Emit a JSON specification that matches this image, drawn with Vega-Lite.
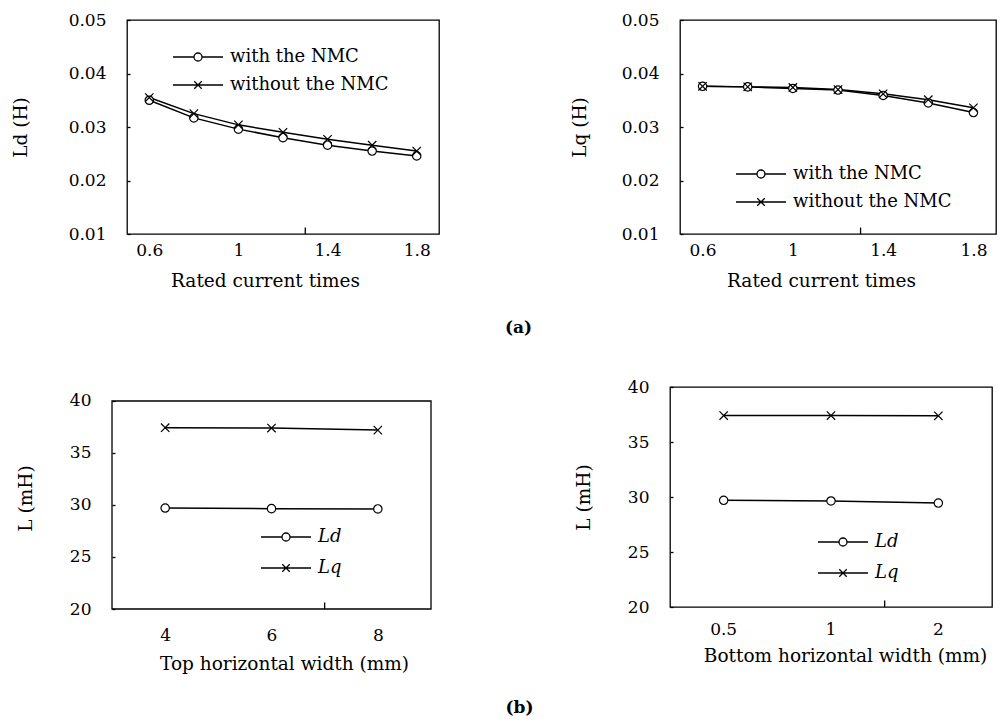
{
  "$schema": "https://vega.github.io/schema/vega-lite/v6.json",
  "padding": {"left": 10, "top": 10, "right": 0, "bottom": 0},
  "background": "white",
  "datasets": {
    "ld": [
      {"times": 0.6, "series": "with the NMC", "L": 0.0350},
      {"times": 0.8, "series": "with the NMC", "L": 0.0317},
      {"times": 1.0, "series": "with the NMC", "L": 0.0296},
      {"times": 1.2, "series": "with the NMC", "L": 0.0280},
      {"times": 1.4, "series": "with the NMC", "L": 0.0266},
      {"times": 1.6, "series": "with the NMC", "L": 0.0255},
      {"times": 1.8, "series": "with the NMC", "L": 0.0246},
      {"times": 0.6, "series": "without the NMC", "L": 0.0355},
      {"times": 0.8, "series": "without the NMC", "L": 0.0325},
      {"times": 1.0, "series": "without the NMC", "L": 0.0304},
      {"times": 1.2, "series": "without the NMC", "L": 0.0290},
      {"times": 1.4, "series": "without the NMC", "L": 0.0277},
      {"times": 1.6, "series": "without the NMC", "L": 0.0266},
      {"times": 1.8, "series": "without the NMC", "L": 0.0255}
    ],
    "lq": [
      {"times": 0.6, "series": "with the NMC", "L": 0.0376},
      {"times": 0.8, "series": "with the NMC", "L": 0.0375},
      {"times": 1.0, "series": "with the NMC", "L": 0.0372},
      {"times": 1.2, "series": "with the NMC", "L": 0.0369},
      {"times": 1.4, "series": "with the NMC", "L": 0.0359},
      {"times": 1.6, "series": "with the NMC", "L": 0.0345},
      {"times": 1.8, "series": "with the NMC", "L": 0.0327},
      {"times": 0.6, "series": "without the NMC", "L": 0.0376},
      {"times": 0.8, "series": "without the NMC", "L": 0.0375},
      {"times": 1.0, "series": "without the NMC", "L": 0.0374},
      {"times": 1.2, "series": "without the NMC", "L": 0.0370},
      {"times": 1.4, "series": "without the NMC", "L": 0.0362},
      {"times": 1.6, "series": "without the NMC", "L": 0.0351},
      {"times": 1.8, "series": "without the NMC", "L": 0.0336}
    ],
    "topWidth": [
      {"width": 4, "series": "Ld", "L": 29.71},
      {"width": 6, "series": "Ld", "L": 29.65},
      {"width": 8, "series": "Ld", "L": 29.62},
      {"width": 4, "series": "Lq", "L": 37.43},
      {"width": 6, "series": "Lq", "L": 37.40},
      {"width": 8, "series": "Lq", "L": 37.20}
    ],
    "bottomWidth": [
      {"width": 0.5, "series": "Ld", "L": 29.70},
      {"width": 1, "series": "Ld", "L": 29.64},
      {"width": 2, "series": "Ld", "L": 29.45},
      {"width": 0.5, "series": "Lq", "L": 37.40},
      {"width": 1, "series": "Lq", "L": 37.40},
      {"width": 2, "series": "Lq", "L": 37.38}
    ]
  },
  "vconcat": [
    {
      "title": {"text": "(a)", "orient": "bottom", "anchor": "middle", "fontWeight": "bold", "fontSize": 17, "offset": 30, "dx": 15},
      "spacing": 129,
      "hconcat": [
        {
          "width": 312,
          "height": 214,
          "data": {"name": "ld"},
          "resolve": {"scale": {"shape": "independent"}},
          "layer": [
            {
              "mark": {"type": "line", "color": "black", "strokeWidth": 1.5},
              "encoding": {
                "x": {"field": "times", "type": "quantitative", "scale": {"domain": [0.5, 1.9], "nice": false, "zero": false},
                      "axis": {"title": "Rated current times", "values": [0.6, 1, 1.4, 1.8], "format": ".1~f", "ticks": false, "labelPadding": 8, "titlePadding": 13, "titleX": 138}},
                "y": {"field": "L", "type": "quantitative", "scale": {"domain": [0.01, 0.05], "nice": false, "zero": false},
                      "axis": {"title": "Ld (H)", "values": [0.01, 0.02, 0.03, 0.04, 0.05], "format": ".2f", "tickSize": -3, "labelPadding": 24, "titlePadding": 38}},
                "detail": {"field": "series"}
              }
            },
            {
              "mark": {"type": "point", "filled": true, "fill": "white", "stroke": "black", "strokeWidth": 1.2, "size": 70, "opacity": 1},
              "encoding": {
                "x": {"field": "times", "type": "quantitative"},
                "y": {"field": "L", "type": "quantitative"},
                "shape": {"field": "series", "scale": {"domain": ["with the NMC", "without the NMC"], "range": ["circle", "M-1,-1L1,1M-1,1L1,-1"]}, "legend": null}
              }
            },
            {
              "transform": [{"filter": "false"}],
              "mark": {"type": "point", "filled": false, "color": "black", "strokeWidth": 1.3, "opacity": 1},
              "encoding": {
                "shape": {"field": "series", "scale": {"domain": ["with the NMC", "without the NMC"], "range": ["M-1,0H-0.16A0.16,0.16,0,1,1,0.16,0A0.16,0.16,0,1,1,-0.16,0M0.16,0H1", "M-1,0H1M-0.15,-0.15L0.15,0.15M-0.15,0.15L0.15,-0.15"]},
                          "legend": {"orient": "none", "legendX": 45, "legendY": 23, "clipHeight": 28, "rowPadding": 0}}
              }
            },
            {
              "data": {"values": [{}]},
              "mark": {"type": "rule", "color": "black", "strokeWidth": 1.3},
              "encoding": {"x": {"datum": 1.3}, "y": {"datum": 0.01}, "y2": {"datum": 0.0112}}
            }
          ]
        },
        {
          "width": 316,
          "height": 214,
          "data": {"name": "lq"},
          "resolve": {"scale": {"shape": "independent"}},
          "layer": [
            {
              "mark": {"type": "line", "color": "black", "strokeWidth": 1.5},
              "encoding": {
                "x": {"field": "times", "type": "quantitative", "scale": {"domain": [0.5, 1.9], "nice": false, "zero": false},
                      "axis": {"title": "Rated current times", "values": [0.6, 1, 1.4, 1.8], "format": ".1~f", "ticks": false, "labelPadding": 8, "titlePadding": 13, "titleX": 141}},
                "y": {"field": "L", "type": "quantitative", "scale": {"domain": [0.01, 0.05], "nice": false, "zero": false},
                      "axis": {"title": "Lq (H)", "values": [0.01, 0.02, 0.03, 0.04, 0.05], "format": ".2f", "tickSize": -3, "labelPadding": 24, "titlePadding": 32}},
                "detail": {"field": "series"}
              }
            },
            {
              "mark": {"type": "point", "filled": true, "fill": "white", "stroke": "black", "strokeWidth": 1.2, "size": 70, "opacity": 1},
              "encoding": {
                "x": {"field": "times", "type": "quantitative"},
                "y": {"field": "L", "type": "quantitative"},
                "shape": {"field": "series", "scale": {"domain": ["with the NMC", "without the NMC"], "range": ["circle", "M-1,-1L1,1M-1,1L1,-1"]}, "legend": null}
              }
            },
            {
              "transform": [{"filter": "false"}],
              "mark": {"type": "point", "filled": false, "color": "black", "strokeWidth": 1.3, "opacity": 1},
              "encoding": {
                "shape": {"field": "series", "scale": {"domain": ["with the NMC", "without the NMC"], "range": ["M-1,0H-0.16A0.16,0.16,0,1,1,0.16,0A0.16,0.16,0,1,1,-0.16,0M0.16,0H1", "M-1,0H1M-0.15,-0.15L0.15,0.15M-0.15,0.15L0.15,-0.15"]},
                          "legend": {"orient": "none", "legendX": 55, "legendY": 140, "clipHeight": 28, "rowPadding": 0}}
              }
            },
            {
              "data": {"values": [{}]},
              "mark": {"type": "rule", "color": "black", "strokeWidth": 1.3},
              "encoding": {"x": {"datum": 1.3}, "y": {"datum": 0.01}, "y2": {"datum": 0.0112}}
            }
          ]
        }
      ]
    },
    {
      "title": {"text": "(b)", "orient": "bottom", "anchor": "middle", "fontWeight": "bold", "fontSize": 17, "offset": 27, "dx": 15},
      "spacing": 141,
      "hconcat": [
        {
          "width": 304,
          "height": 222,
          "view": {"stroke": null},
          "data": {"name": "topWidth"},
          "resolve": {"scale": {"shape": "independent"}},
          "layer": [
            {
              "data": {"values": [{}]},
              "mark": {"type": "rect", "filled": false, "color": "black", "strokeWidth": 1.3},
              "encoding": {"x": {"datum": 3}, "x2": {"datum": 9}, "y": {"datum": 20}, "y2": {"datum": 40}}
            },
            {
              "mark": {"type": "line", "color": "black", "strokeWidth": 1.5},
              "encoding": {
                "x": {"field": "width", "type": "quantitative", "scale": {"domain": [3.282, 9], "nice": false, "zero": false},
                      "axis": {"title": "Top horizontal width (mm)", "values": [4, 6, 8], "ticks": false, "labelPadding": 18, "titlePadding": 11, "titleX": 157}},
                "y": {"field": "L", "type": "quantitative", "scale": {"domain": [20, 41.346], "nice": false, "zero": false},
                      "axis": {"title": "L (mH)", "values": [20, 25, 30, 35, 40], "tickSize": -3, "labelPadding": 24, "titlePadding": 34, "offset": 15}},
                "detail": {"field": "series"}
              }
            },
            {
              "mark": {"type": "point", "filled": true, "fill": "white", "stroke": "black", "strokeWidth": 1.2, "size": 70, "opacity": 1},
              "encoding": {
                "x": {"field": "width", "type": "quantitative"},
                "y": {"field": "L", "type": "quantitative"},
                "shape": {"field": "series", "scale": {"domain": ["Ld", "Lq"], "range": ["circle", "M-1,-1L1,1M-1,1L1,-1"]}, "legend": null}
              }
            },
            {
              "transform": [{"filter": "false"}],
              "mark": {"type": "point", "filled": false, "color": "black", "strokeWidth": 1.3, "opacity": 1},
              "encoding": {
                "shape": {"field": "series", "scale": {"domain": ["Ld", "Lq"], "range": ["M-1,0H-0.16A0.16,0.16,0,1,1,0.16,0A0.16,0.16,0,1,1,-0.16,0M0.16,0H1", "M-1,0H1M-0.15,-0.15L0.15,0.15M-0.15,0.15L0.15,-0.15"]},
                          "legend": {"orient": "none", "legendX": 133, "legendY": 135, "clipHeight": 30, "rowPadding": 1, "labelFontStyle": "italic"}}
              }
            },
            {
              "data": {"values": [{}]},
              "mark": {"type": "rule", "color": "black", "strokeWidth": 1.3},
              "encoding": {"x": {"datum": 7}, "y": {"datum": 20}, "y2": {"datum": 20.62}}
            }
          ]
        },
        {
          "width": 322,
          "height": 220,
          "data": {"name": "bottomWidth"},
          "resolve": {"scale": {"shape": "independent"}},
          "layer": [
            {
              "mark": {"type": "line", "color": "black", "strokeWidth": 1.5},
              "encoding": {
                "x": {"field": "width", "type": "ordinal", "bandPosition": 0.5, "scale": {"type": "band", "domain": [0.5, 1, 2], "paddingInner": 0, "paddingOuter": 0},
                      "axis": {"title": "Bottom horizontal width (mm)", "labelAngle": 0, "ticks": false, "labelPadding": 14, "titlePadding": 9, "titleX": 175}},
                "y": {"field": "L", "type": "quantitative", "scale": {"domain": [20, 40], "nice": false, "zero": false},
                      "axis": {"title": "L (mH)", "values": [20, 25, 30, 35, 40], "tickSize": -3, "labelPadding": 24, "titlePadding": 34}},
                "detail": {"field": "series"}
              }
            },
            {
              "mark": {"type": "point", "filled": true, "fill": "white", "stroke": "black", "strokeWidth": 1.2, "size": 70, "opacity": 1},
              "encoding": {
                "x": {"field": "width", "type": "ordinal", "bandPosition": 0.5},
                "y": {"field": "L", "type": "quantitative"},
                "shape": {"field": "series", "scale": {"domain": ["Ld", "Lq"], "range": ["circle", "M-1,-1L1,1M-1,1L1,-1"]}, "legend": null}
              }
            },
            {
              "transform": [{"filter": "false"}],
              "mark": {"type": "point", "filled": false, "color": "black", "strokeWidth": 1.3, "opacity": 1},
              "encoding": {
                "shape": {"field": "series", "scale": {"domain": ["Ld", "Lq"], "range": ["M-1,0H-0.16A0.16,0.16,0,1,1,0.16,0A0.16,0.16,0,1,1,-0.16,0M0.16,0H1", "M-1,0H1M-0.15,-0.15L0.15,0.15M-0.15,0.15L0.15,-0.15"]},
                          "legend": {"orient": "none", "legendX": 147, "legendY": 140, "clipHeight": 30, "rowPadding": 1, "labelFontStyle": "italic"}}
              }
            },
            {
              "data": {"values": [{}]},
              "mark": {"type": "rule", "color": "black", "strokeWidth": 1.3},
              "encoding": {"x": {"datum": 2, "type": "ordinal", "bandPosition": 0}, "y": {"datum": 20}, "y2": {"datum": 20.6}}
            }
          ]
        }
      ]
    }
  ],
  "spacing": 40,
  "config": {
    "font": "DejaVu Serif",
    "view": {"stroke": "black", "strokeWidth": 1.3},
    "axis": {
      "grid": false,
      "domain": false,
      "labelFont": "DejaVu Serif",
      "labelFontSize": 17,
      "labelColor": "black",
      "titleFont": "DejaVu Serif",
      "titleFontSize": 18.5,
      "titleFontWeight": "normal",
      "titleColor": "black",
      "tickColor": "black",
      "tickWidth": 1.3
    },
    "legend": {
      "title": null,
      "labelFont": "DejaVu Serif",
      "labelFontSize": 18,
      "labelColor": "black",
      "symbolSize": 2500,
      "symbolStrokeWidth": 1.3,
      "symbolStrokeColor": "black",
      "symbolFillColor": "white",
      "labelOffset": 6,
      "padding": 0
    },
    "title": {"font": "DejaVu Serif", "color": "black"}
  }
}
